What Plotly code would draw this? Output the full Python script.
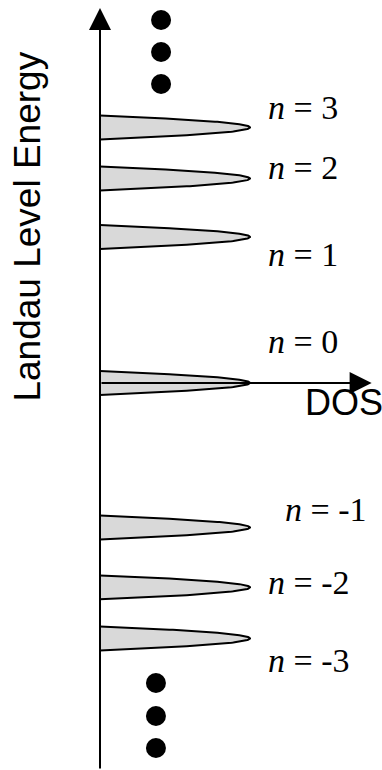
import numpy as np
import plotly.graph_objects as go

# Landau level indices and their energies (graphene-like, E ~ sign(n) sqrt|n|)
level_index = [-3, -2, -1, 0, 1, 2, 3]
level_energy = [-1.75, -1.40, -0.99, 0.0, 1.0, 1.40, 1.75]
peak_dos = [1.0, 1.0, 1.0, 1.0, 1.0, 1.0, 1.0]
peak_halfwidth = [0.082, 0.082, 0.082, 0.082, 0.082, 0.082, 0.082]

# Label texts for each level
level_labels = ["<i>n</i> = -3", "<i>n</i> = -2", "<i>n</i> = -1", "<i>n</i> = 0",
                "<i>n</i> = 1", "<i>n</i> = 2", "<i>n</i> = 3"]
label_dos = [1.107, 1.107, 1.22, 1.107, 1.107, 1.107, 1.107]
label_energy = [-1.904, -1.37, -0.868, 0.281, 0.877, 1.476, 1.887]

# "and so on" dots above and below the shown levels
dots_top_dos = [0.407, 0.407, 0.407]
dots_top_energy = [2.486, 2.267, 2.048]
dots_bot_dos = [0.373, 0.373, 0.373]
dots_bot_energy = [-2.055, -2.281, -2.500]

# axis extents (data units)
X_RANGE = [-0.6667, 1.88]
Y_RANGE = [-2.651, 2.623]
E_AXIS_TIP = 2.568
DOS_AXIS_TIP = 1.811

fig = go.Figure()

# Broadened DOS peak at each Landau level, drawn sideways from the energy axis
for E, H, w in zip(level_energy, peak_dos, peak_halfwidth):
    d = np.linspace(-w, w, 121)
    x = H * (1 - (d / w) ** 2)
    y = E + d
    fig.add_trace(go.Scatter(
        x=x, y=y, mode="lines", fill="toself",
        fillcolor="#d9d9d9", line=dict(color="black", width=2),
        hoverinfo="skip", showlegend=False,
    ))

# Ellipsis dots
fig.add_trace(go.Scatter(
    x=dots_top_dos + dots_bot_dos, y=dots_top_energy + dots_bot_energy,
    mode="markers", marker=dict(color="black", size=20, line=dict(width=0)),
    hoverinfo="skip", showlegend=False,
))

annotations = []
# Energy axis with arrow
annotations.append(dict(
    x=0, y=E_AXIS_TIP, ax=0, ay=Y_RANGE[0], xref="x", yref="y", axref="x", ayref="y",
    text="", showarrow=True, arrowhead=2, arrowsize=2.2, arrowwidth=2, arrowcolor="black",
    standoff=0, startstandoff=0,
))
# DOS axis with arrow
annotations.append(dict(
    x=DOS_AXIS_TIP, y=0, ax=0, ay=0, xref="x", yref="y", axref="x", ayref="y",
    text="", showarrow=True, arrowhead=2, arrowsize=2.2, arrowwidth=2, arrowcolor="black",
    standoff=0, startstandoff=0,
))

# Level labels
for t, lx, ly in zip(level_labels, label_dos, label_energy):
    annotations.append(dict(
        x=lx, y=ly, xref="x", yref="y", text=t, showarrow=False,
        xanchor="left", yanchor="middle",
        font=dict(family="Liberation Serif, Times New Roman, serif", size=34, color="black"),
    ))

# Axis titles
annotations.append(dict(
    x=1.353, y=-0.137, xref="x", yref="y", text="DOS", showarrow=False,
    xanchor="left", yanchor="middle",
    font=dict(family="Liberation Sans, Arial, sans-serif", size=36, color="black"),
))
annotations.append(dict(
    x=0.0733, y=0.7058, xref="paper", yref="paper", text="Landau Level Energy",
    showarrow=False, textangle=-90, xanchor="center", yanchor="middle",
    font=dict(family="Liberation Sans, Arial, sans-serif", size=37, color="black"),
))

fig.update_layout(
    width=382, height=770,
    margin=dict(l=0, r=0, t=0, b=0),
    paper_bgcolor="white", plot_bgcolor="white",
    xaxis=dict(range=X_RANGE, visible=False, fixedrange=True),
    yaxis=dict(range=Y_RANGE, visible=False, fixedrange=True),
    annotations=annotations,
    showlegend=False,
)

fig.write_html("out.html")
